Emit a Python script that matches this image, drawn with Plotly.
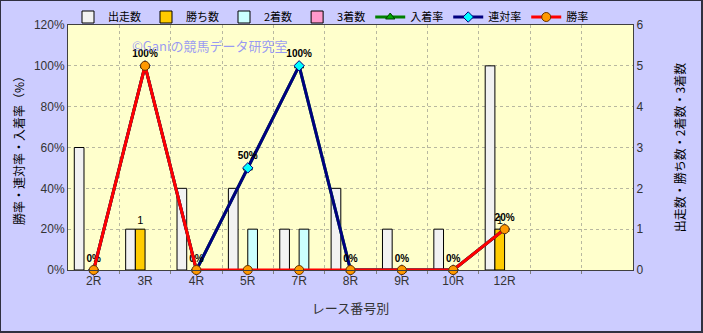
import plotly.graph_objects as go

races = ["2R", "3R", "4R", "5R", "7R", "8R", "9R", "10R", "12R"]
starts = [3, 1, 2, 2, 1, 2, 1, 1, 5]
wins = [0, 1, 0, 0, 0, 0, 0, 0, 1]
seconds = [0, 0, 0, 1, 1, 0, 0, 0, 0]
thirds = [0, 0, 0, 0, 0, 0, 0, 0, 0]
place_rate = [0, 1.0, 0, 0.5, 1.0, 0, 0, 0, 0.2]
rentai_rate = [0, 1.0, 0, 0.5, 1.0, 0, 0, 0, 0.2]
win_rate = [0, 1.0, 0, 0, 0, 0, 0, 0, 0.2]
n_slots = 11

xs = list(range(len(races)))
JP = "Noto Sans CJK JP"
NUM = "Liberation Sans, Noto Sans CJK JP"

fig = go.Figure()

bar_specs = [
    ("出走数", starts, "#F2F2F2"),
    ("勝ち数", wins, "#FFCC00"),
    ("2着数", seconds, "#CCFFFF"),
    ("3着数", thirds, "#FF99CC"),
]
for name, vals, col in bar_specs:
    txt = [str(v) if (name == "勝ち数" and v > 0) else "" for v in vals]
    fig.add_trace(go.Bar(
        x=xs, y=[v if v else None for v in vals], name=name, yaxis="y",
        marker=dict(color=col, line=dict(color="#000000", width=1)),
        text=txt, textposition="outside", cliponaxis=False,
        textfont=dict(family=NUM, size=11, color="#000000"),
        hoverinfo="skip",
    ))

fig.add_trace(go.Scatter(
    x=xs, y=place_rate, name="入着率", yaxis="y2", mode="lines+markers",
    line=dict(color="#008000", width=3),
    marker=dict(symbol="triangle-up", size=8, color="#00AA00", line=dict(color="#004000", width=1)),
    cliponaxis=False,
))
fig.add_trace(go.Scatter(
    x=xs, y=rentai_rate, name="連対率", yaxis="y2", mode="lines+markers+text",
    line=dict(color="#000080", width=3),
    marker=dict(symbol="diamond", size=8, color="#00FFFF", line=dict(color="#000080", width=1)),
    text=[f"{round(v*100)}%" for v in rentai_rate], textposition="top center",
    textfont=dict(family="Liberation Sans", size=10, color="#000000", weight="bold"),
    cliponaxis=False,
))
fig.add_trace(go.Scatter(
    x=xs, y=win_rate, name="勝率", yaxis="y2", mode="lines+markers",
    line=dict(color="#FF0000", width=3),
    marker=dict(symbol="circle", size=9, color="#FF9900", line=dict(color="#663300", width=1)),
    cliponaxis=False,
))

half = [i + 0.5 for i in range(n_slots - 1)]
GRID = "#B8B8A0"

fig.update_layout(
    width=703, height=333,
    margin=dict(l=68, r=70, t=25, b=63, autoexpand=False),
    paper_bgcolor="#CCCCFF",
    plot_bgcolor="#FFFFCC",
    barmode="group", bargap=0.245, bargroupgap=0,
    showlegend=True,
    legend=dict(orientation="h", x=0.0, y=1 + 8 / 245, xanchor="left", yanchor="middle",
                font=dict(family=JP, size=11, color="#000000"),
                bgcolor="rgba(0,0,0,0)", traceorder="normal", itemwidth=30),
    font=dict(family=JP, size=12, color="#333333"),
    xaxis=dict(
        range=[-0.5, n_slots - 0.5], tickvals=xs, ticktext=races,
        showgrid=False, zeroline=False, ticks="",
        tickfont=dict(family=NUM, size=12, color="#333333"),
        showline=True, linecolor="#404040", linewidth=1, mirror=True,
        minor=dict(tickvals=half, showgrid=True, gridcolor=GRID, griddash="dot",
                   gridwidth=1, ticks="outside", ticklen=3, tickcolor="#808080"),
        title=dict(text="レース番号別", font=dict(family=JP, size=13, color="#333333"), standoff=16),
    ),
    yaxis=dict(
        side="right", range=[0, 6], dtick=1, tick0=0,
        showgrid=True, gridcolor=GRID, griddash="dot", zeroline=False,
        tickfont=dict(family=NUM, size=12, color="#333333"),
        showline=True, linecolor="#404040", linewidth=1,
        title=dict(text="出走数・勝ち数・2着数・3着数", font=dict(family=JP, size=12, color="#000000"), standoff=34),
    ),
    yaxis2=dict(
        side="left", overlaying="y", range=[0, 1.2], dtick=0.2, tick0=0, tickformat=".0%",
        showgrid=False, zeroline=False,
        tickfont=dict(family=NUM, size=12, color="#333333"),
        showline=True, linecolor="#404040", linewidth=1,
        title=dict(text="勝率・連対率・入着率（%）", font=dict(family=JP, size=12, color="#000000"), standoff=6),
    ),
    annotations=[dict(
        text="©Ganiの競馬データ研究室", xref="paper", yref="paper",
        x=(210 - 68) / 565, y=1 - (45 - 25) / 245, xanchor="center", yanchor="middle",
        showarrow=False, font=dict(family=JP, size=13, color="rgba(120,120,255,0.75)"),
    )],
    shapes=[dict(type="rect", xref="paper", yref="paper",
                 x0=-68 / 565, x1=1 + 69 / 565, y0=-62 / 245, y1=1 + 25 / 245,
                 line=dict(color="#303040", width=2), fillcolor="rgba(0,0,0,0)", layer="above")],
)

fig.write_html("out.html")
